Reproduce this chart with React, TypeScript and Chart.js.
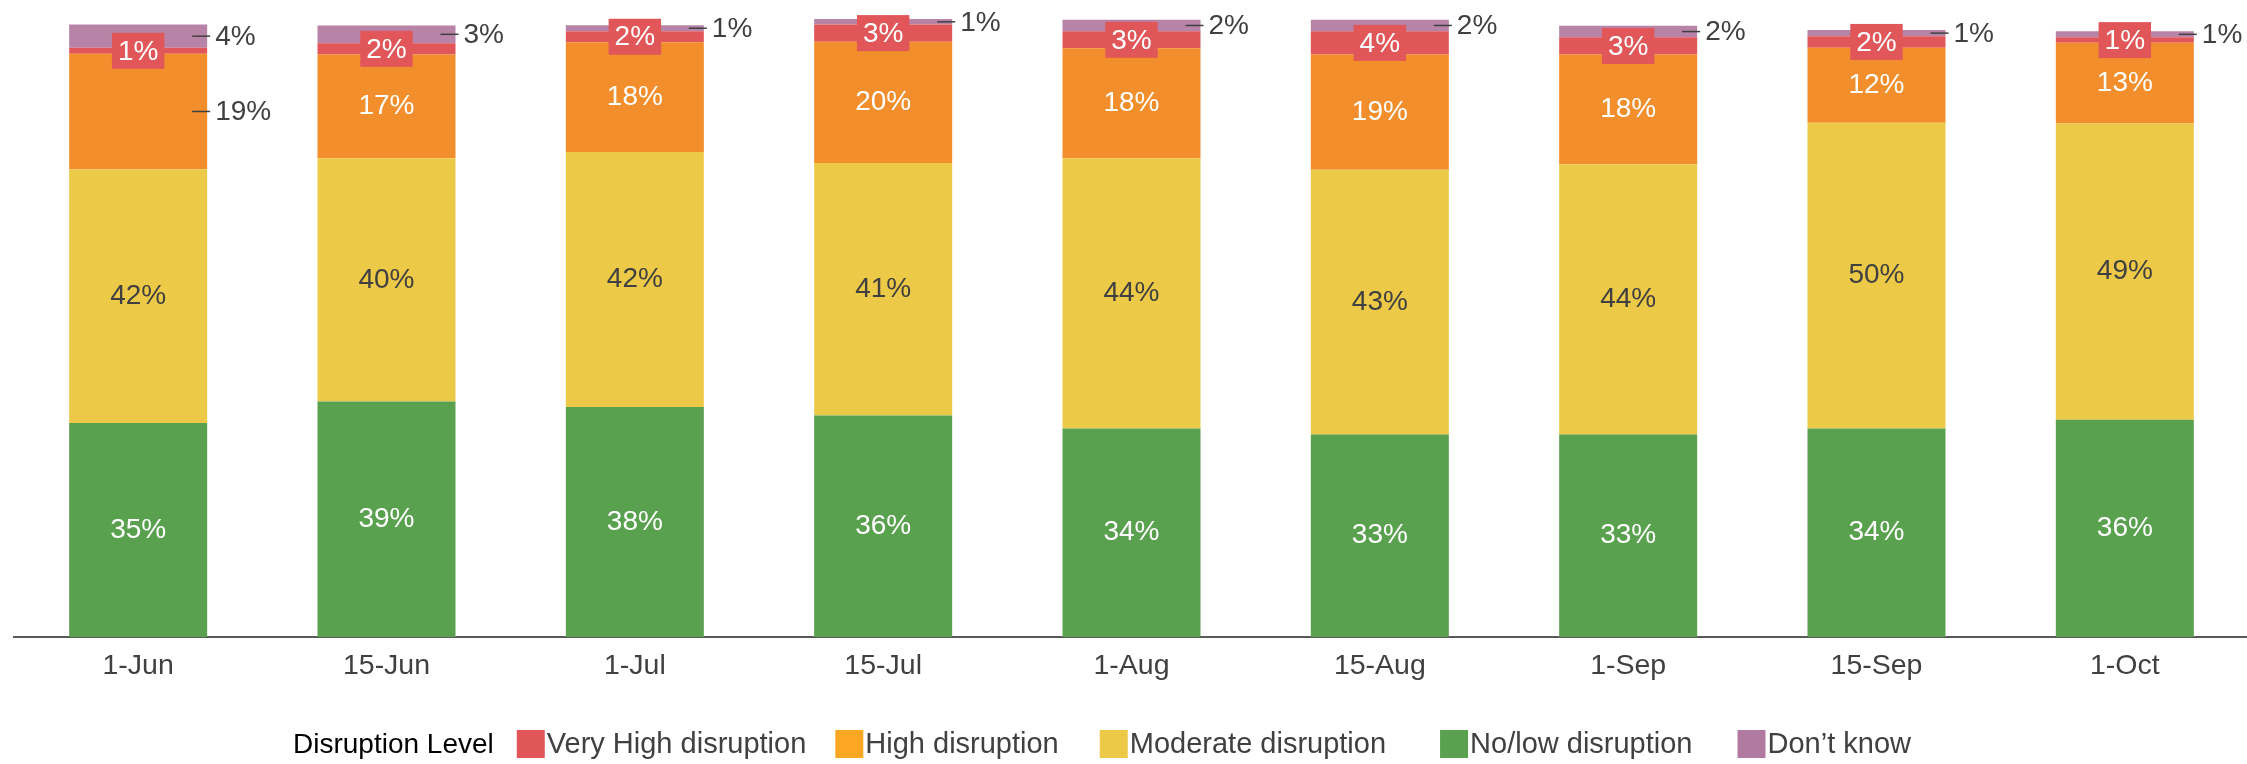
import React, { useEffect, useRef } from 'react';
import { Chart, registerables } from 'chart.js';

Chart.register(...registerables);

// ---- Data (percent of respondents) ----
const categories = ['1-Jun', '15-Jun', '1-Jul', '15-Jul', '1-Aug', '15-Aug', '1-Sep', '15-Sep', '1-Oct'];
const noLowDisruption = [35.1, 38.6, 37.7, 36.3, 34.2, 33.2, 33.2, 34.2, 35.6];
const moderateDisruption = [41.6, 39.9, 41.8, 41.4, 44.3, 43.4, 44.3, 50.1, 48.6];
const highDisruption = [18.9, 17.0, 18.0, 19.9, 18.0, 18.9, 18.0, 12.3, 13.2];
const veryHighDisruption = [1.0, 1.85, 1.8, 2.8, 2.8, 3.8, 2.8, 1.9, 0.9];
const dontKnow = [3.8, 2.9, 1.0, 0.9, 1.9, 1.9, 1.9, 1.0, 1.0];
const highLabelOutside = [true, false, false, false, false, false, false, false, false];

const legendTitle = 'Disruption Level';
const legendLabels = ['Very High disruption', 'High disruption', 'Moderate disruption', 'No/low disruption', 'Don\u2019t know'];

const FONT = '"Liberation Sans", Arial, sans-serif';
const GREY = '#404040';

const COLORS = {
  green: '#59A14F',
  yellow: '#EDC948',
  orange: '#F28E2B',
  red: '#E15759',
  purple: '#B783A6',
};
const legendColors = ['#E15759', '#FCA723', '#EDC948', '#59A14F', '#B07AA1'];

// label mode per dataset index (green, yellow, orange, red, purple)
type Mode = 'inWhite' | 'inDark' | 'box' | 'outside';
const datasetModes: Mode[][] = [
  categories.map(() => 'inWhite'),
  categories.map(() => 'inDark'),
  highLabelOutside.map((o) => (o ? 'outside' : 'inWhite')),
  categories.map(() => 'box'),
  categories.map(() => 'outside'),
];

const labelPlugin = {
  id: 'segLabels',
  afterDatasetsDraw(chart: any) {
    const ctx = chart.ctx;
    ctx.save();
    ctx.font = `28px ${FONT}`;
    ctx.textBaseline = 'middle';
    chart.data.datasets.forEach((ds: any, di: number) => {
      const meta = chart.getDatasetMeta(di);
      meta.data.forEach((bar: any, i: number) => {
        const p = bar.getProps(['x', 'y', 'base', 'width'], true);
        const v = ds.data[i] as number;
        const txt = Math.round(v) + '%';
        const cy = (p.y + p.base) / 2;
        const right = p.x + p.width / 2;
        const mode = datasetModes[di][i];
        if (mode === 'inWhite' || mode === 'inDark') {
          ctx.fillStyle = mode === 'inWhite' ? '#FFFFFF' : GREY;
          ctx.textAlign = 'center';
          ctx.fillText(txt, p.x, cy);
        } else if (mode === 'box') {
          const w = ctx.measureText(txt).width + 12;
          const h = 36;
          ctx.fillStyle = COLORS.red;
          ctx.fillRect(p.x - w / 2, cy - h / 2, w, h);
          ctx.fillStyle = '#FFFFFF';
          ctx.textAlign = 'center';
          ctx.fillText(txt, p.x, cy + 1);
        } else {
          ctx.strokeStyle = GREY;
          ctx.lineWidth = 1.5;
          ctx.beginPath();
          ctx.moveTo(right - 15, cy);
          ctx.lineTo(right + 3, cy);
          ctx.stroke();
          ctx.fillStyle = GREY;
          ctx.textAlign = 'left';
          ctx.fillText(txt, right + 8, cy + 1);
        }
      });
    });
    ctx.restore();
  },
};

const legendPlugin = {
  id: 'customLegend',
  afterDraw(chart: any) {
    const ctx = chart.ctx;
    const cy = chart.height - 20;
    const gaps = [23, 29, 41, 54, 45];
    ctx.save();
    ctx.textBaseline = 'middle';
    ctx.textAlign = 'left';
    let x = 293;
    ctx.font = `28px ${FONT}`;
    ctx.fillStyle = '#000000';
    ctx.fillText(legendTitle, x, cy + 1);
    x += ctx.measureText(legendTitle).width + gaps[0];
    ctx.font = `29px ${FONT}`;
    legendLabels.forEach((lab, i) => {
      ctx.fillStyle = legendColors[i];
      ctx.fillRect(x, cy - 14, 28, 28);
      ctx.fillStyle = GREY;
      ctx.fillText(lab, x + 30, cy + 1);
      x += 30 + ctx.measureText(lab).width + (gaps[i + 1] || 0);
    });
    ctx.restore();
  },
};

export default function App() {
  const ref = useRef<HTMLCanvasElement | null>(null);
  useEffect(() => {
    if (!ref.current) return;
    const mk = (label: string, data: number[], color: string) => ({
      label,
      data,
      backgroundColor: color,
      borderWidth: 0,
      barPercentage: 0.5557,
      categoryPercentage: 1,
    });
    const chart = new Chart(ref.current, {
      type: 'bar',
      data: {
        labels: categories,
        datasets: [
          mk('No/low disruption', noLowDisruption, COLORS.green),
          mk('Moderate disruption', moderateDisruption, COLORS.yellow),
          mk('High disruption', highDisruption, COLORS.orange),
          mk('Very High disruption', veryHighDisruption, COLORS.red),
          mk('Don\u2019t know', dontKnow, COLORS.purple),
        ],
      },
      options: {
        animation: false,
        responsive: false,
        devicePixelRatio: 1,
        layout: { padding: { left: 14, right: 1, top: 14.8, bottom: 68.8 } },
        plugins: {
          legend: { display: false },
          tooltip: { enabled: false },
          title: { display: false },
        },
        scales: {
          x: {
            stacked: true,
            grid: { display: false, drawTicks: false },
            border: { display: true, color: '#595959', width: 2 },
            ticks: {
              color: GREY,
              font: { family: FONT, size: 28.5 },
              padding: 12,
              maxRotation: 0,
              autoSkip: false,
            },
          },
          y: {
            stacked: true,
            display: false,
            min: 0,
            max: 102,
          },
        },
      },
      plugins: [labelPlugin, legendPlugin],
    });
    return () => chart.destroy();
  }, []);
  return (
    <div style={{ position: 'absolute', left: 0, top: 0, width: 2247, height: 764, overflow: 'hidden', background: '#fff' }}>
      <canvas ref={ref} width={2250} height={764} style={{ display: 'block' }} />
    </div>
  );
}
